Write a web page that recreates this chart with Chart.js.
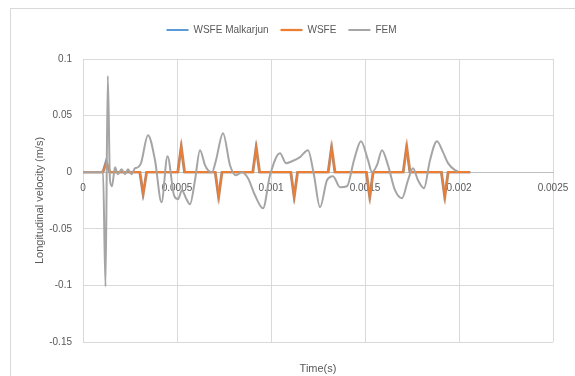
<!DOCTYPE html>
<html>
<head>
<meta charset="utf-8">
<script src="https://cdn.jsdelivr.net/npm/chart.js@4.4.0/dist/chart.umd.min.js"></script>
<style>
  html, body { margin: 0; padding: 0; background: #fff; }
</style>
</head>
<body>
<canvas id="velocityChart" width="575" height="376"></canvas>
<script>
// ============================================
// LONGITUDINAL VELOCITY — WSFE vs FEM
// ============================================

Chart.defaults.font.family = "'Liberation Sans', Arial, sans-serif";
Chart.defaults.color = "#595959";

const BLUE = "#5B9BD5";
const ORANGE = "#ED7D31";
const GREY = "#A5A5A5";
const GRID_COLOR = "#D9D9D9";


// ---------- data ----------

const X_TICKS = [0, 0.0005, 0.001, 0.0015, 0.002, 0.0025];
const Y_TICKS = [-0.15, -0.1, -0.05, 0, 0.05, 0.1];

const MALK_TIME = [0, 0.000104, 0.000122, 0.00014, 0.0003, 0.000318, 0.000336,
  0.000502, 0.00052, 0.000538, 0.000701, 0.000719, 0.000737, 0.000901, 0.000919,
  0.000937, 0.001103, 0.001121, 0.001139, 0.001302, 0.00132, 0.001338, 0.001505,
  0.001523, 0.001541, 0.001701, 0.001719, 0.001737, 0.001904, 0.001922, 0.00194, 0.00206];
const MALK_VEL = [0, 0, 0.010, 0, 0, -0.020, 0, 0, 0.022, 0, 0, -0.022, 0, 0, 0.022,
  0, 0, -0.022, 0, 0, 0.022, 0, 0, -0.022, 0, 0, 0.022, 0, 0, -0.022, 0, 0];

const WSFE_TIME = [0, 0.000108, 0.000126, 0.000144, 0.000304, 0.000322, 0.00034,
  0.000506, 0.000524, 0.000542, 0.000705, 0.000723, 0.000741, 0.000905, 0.000923,
  0.000941, 0.001107, 0.001125, 0.001143, 0.001306, 0.001324, 0.001342, 0.001509,
  0.001527, 0.001545, 0.001705, 0.001723, 0.001741, 0.001908, 0.001926, 0.001944, 0.00206];
const WSFE_VEL = [0, 0, 0.009, 0, 0, -0.019, 0, 0, 0.023, 0, 0, -0.022, 0, 0, 0.022,
  0, 0, -0.022, 0, 0, 0.022, 0, 0, -0.022, 0, 0, 0.023, 0, 0, -0.022, 0, 0];

const FEM_TIME = [0, 0.0000904, 0.0001064, 0.0001197, 0.0001319, 0.0001436, 0.0001543,
  0.0001702, 0.0001862, 0.0002048, 0.0002234, 0.0002394, 0.000258, 0.0002766, 0.0002926,
  0.0003085, 0.0003457, 0.000383, 0.0004176, 0.0004495, 0.000484, 0.0005053, 0.0005266,
  0.0005479, 0.0005691, 0.0005957, 0.0006223, 0.0006489, 0.0006649, 0.0006862, 0.0007074,
  0.0007447, 0.0007819, 0.0008138, 0.0008457, 0.0008777, 0.0009149, 0.0009574, 0.0009947,
  0.0010479, 0.0010798, 0.0011117, 0.0011543, 0.0011968, 0.0012287, 0.0012606, 0.0012979,
  0.0013298, 0.001367, 0.0014043, 0.0014415, 0.0014787, 0.001516, 0.0015372, 0.0015638,
  0.0015904, 0.0016223, 0.0016596, 0.0016968, 0.0017287, 0.0017553, 0.0017819, 0.0018138,
  0.0018457, 0.001883, 0.0019149, 0.0019415, 0.0019787, 0.0019947];
const FEM_VEL = [0, 0, 0.0009, -0.101, 0.085, -0.0071, -0.0124,
  0.0044, -0.0018, 0.0027, -0.0018, 0.0027, -0.0018, 0.0035, 0.0044,
  0.008, 0.0327, 0.0106, -0.0266, 0.0142, -0.0204, -0.0239, -0.0159,
  -0.023, -0.0283, -0.0071, 0.0195, 0.0062, 0.0018, 0, 0.0106,
  0.0345, 0.0062, -0.0027, 0, -0.0053, -0.0204, -0.0319, -0.0027,
  0.0168, 0.008, 0.0097, 0.0133, 0.0195, -0.0027, -0.031, -0.0071,
  -0.0035, -0.0133, -0.0124, 0.0106, 0.0274, 0.0106, 0, 0.0062,
  0.0195, 0.0062, -0.0159, -0.023, -0.0071, 0.0035, -0.0071, -0.0142,
  0.0106, 0.0274, 0.0177, 0.008, 0.0018, 0.0009];


const toPoints = (xs, ys) => xs.map((x, i) => ({ x, y: ys[i] }));


// ---------- small helpers ----------

// white background + light frame like the spreadsheet chart box
const chartFrame = {
  id: "chartFrame",
  beforeDraw(chart) {
    const c = chart.ctx;
    c.save();
    c.fillStyle = "#fff";
    c.fillRect(0, 0, chart.width, chart.height);
    c.strokeStyle = "#D9D9D9";
    c.lineWidth = 1;
    c.strokeRect(10.5, 8.5, chart.width + 20, chart.height + 20);
    c.restore();
  }
};

// extra gap between legend and plot area
const legendGap = {
  id: "legendGap",
  afterInit(chart) {
    const legend = chart.legend;
    if (!legend) return;
    const fit = legend.fit;
    legend.fit = function () {
      fit.call(this);
      this.height += 14;
    };
  }
};

// let the last x label hang into the right margin instead of shrinking the plot
const noSidePadding = scale => {
  scale.paddingLeft = 0;
  scale.paddingRight = 0;
};


// ---------- chart ----------

new Chart(document.getElementById("velocityChart"), {

  type: "line",

  data: {
    datasets: [
      {
        label: "WSFE Malkarjun",
        data: toPoints(MALK_TIME, MALK_VEL),
        borderColor: BLUE,
        backgroundColor: BLUE,
        borderWidth: 2,
        tension: 0,
        order: 3
      },
      {
        label: "WSFE",
        data: toPoints(WSFE_TIME, WSFE_VEL),
        borderColor: ORANGE,
        backgroundColor: ORANGE,
        borderWidth: 2.25,
        tension: 0,
        order: 2
      },
      {
        label: "FEM",
        data: toPoints(FEM_TIME, FEM_VEL),
        borderColor: GREY,
        backgroundColor: GREY,
        borderWidth: 2,
        cubicInterpolationMode: "monotone",
        order: 1
      }
    ]
  },

  options: {
    responsive: false,
    animation: false,
    devicePixelRatio: 1,
    elements: { point: { radius: 0 } },

    layout: {
      padding: { left: 10, right: 22, top: 13, bottom: 0 }
    },

    plugins: {
      tooltip: { enabled: false },
      legend: {
        position: "top",
        labels: {
          usePointStyle: true,
          pointStyle: "line",
          pointStyleWidth: 22,
          padding: 12,
          font: { size: 10 },
          sort: (a, b) => a.datasetIndex - b.datasetIndex
        }
      }
    },

    scales: {
      x: {
        type: "linear",
        position: { y: 0 },
        min: 0,
        max: 0.0025,
        afterBuildTicks: scale => {
          scale.ticks = X_TICKS.map(value => ({ value }));
        },
        afterFit: noSidePadding,
        ticks: {
          padding: 10,
          font: { size: 10 },
          callback: v => String(Number(v.toFixed(4)))
        },
        grid: { color: GRID_COLOR, drawTicks: false },
        border: { color: "#BFBFBF" }
      },

      xTitle: {
        type: "linear",
        position: "bottom",
        min: 0,
        max: 0.0025,
        ticks: { display: false },
        grid: { display: false },
        border: { display: false },
        title: {
          display: true,
          text: "Time(s)",
          font: { size: 11 },
          padding: { top: 13, bottom: 0 }
        },
        afterFit: scale => {
          noSidePadding(scale);
          scale.height = 34;
        }
      },

      y: {
        min: -0.15,
        max: 0.1,
        afterBuildTicks: scale => {
          scale.ticks = Y_TICKS.map(value => ({ value }));
        },
        ticks: {
          padding: 11,
          font: { size: 10 },
          callback: v => String(Number(v.toFixed(2)))
        },
        grid: { color: GRID_COLOR, drawTicks: false },
        border: { display: false },
        title: {
          display: true,
          text: "Longitudinal velocity (m/s)",
          font: { size: 11 },
          padding: { top: 23, bottom: 0 }
        },
        afterFit: scale => { scale.width = 73; }
      }
    }
  },

  plugins: [chartFrame, legendGap]

});
</script>
</body>
</html>
